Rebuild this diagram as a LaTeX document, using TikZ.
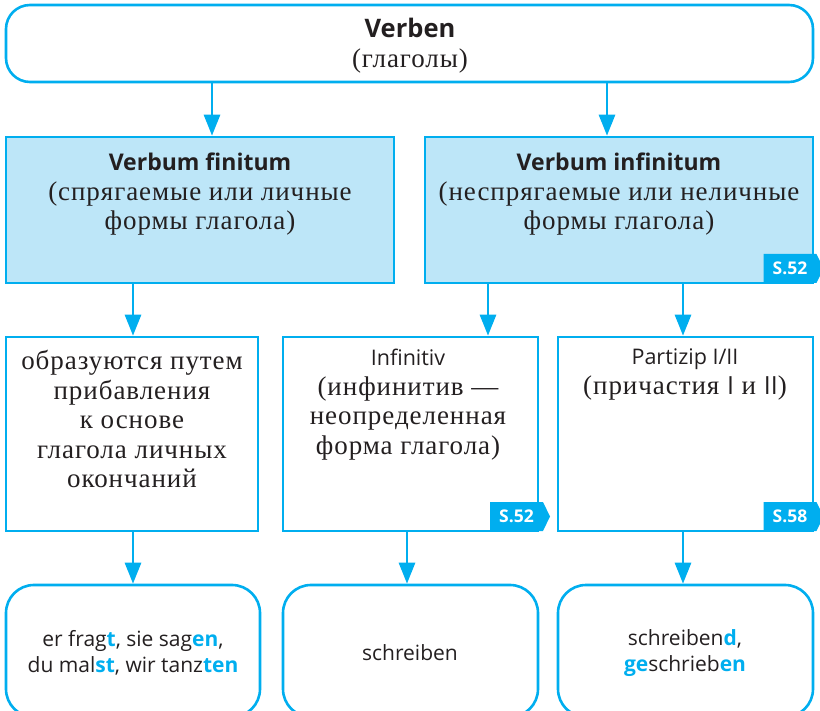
\documentclass[tikz,border=0pt]{standalone}
\usepackage{fontspec}
\setmainfont[LetterSpace=3.5]{Liberation Serif}
\setsansfont{Open Sans}
\usetikzlibrary{arrows.meta,shapes.symbols}
\definecolor{cy}{HTML}{00AEEF}
\definecolor{lb}{HTML}{BDE6F8}
\definecolor{tx}{HTML}{231F20}
\newcommand{\hl}[1]{\textcolor{cy}{\textbf{#1}}}
\newcommand{\hd}[1]{{\sffamily\bfseries\fontsize{23}{29.5}\selectfont #1}}
\newcommand{\sn}[1]{{\sffamily\fontsize{21.5}{29.5}\selectfont #1}}
\newcommand{\rn}[1]{{\sffamily\fontsize{25}{29.5}\selectfont #1}}
\begin{document}
\begin{tikzpicture}[x=1pt,y=-1pt,
  box/.style={draw=cy,line width=2.6pt,rectangle,inner sep=0pt},
  rbox/.style={box,rounded corners=24pt},
  fbox/.style={box,fill=lb},
  lbl/.style={text=tx,align=center,font=\fontsize{27}{29.5}\selectfont,inner sep=0pt},
  slbl/.style={text=tx,align=center,font=\sffamily\fontsize{21}{26.5}\selectfont,inner sep=0pt},
  tag/.style={signal,signal to=east,signal pointer angle=128,fill=cy,text=white,
    font=\sffamily\bfseries\fontsize{17.5}{17.5}\selectfont,minimum height=29pt,minimum width=60pt,inner sep=0pt},
  arr/.style={draw=cy,line width=2.8pt,-{Triangle[width=16pt,length=21pt]}}]
\useasboundingbox (0,0) rectangle (820,711);
% top
\node[rbox,minimum width=807pt,minimum height=77pt] (top) at (409.5,43.5) {};
\node[lbl,anchor=north] (toptxt) at (410,18) {{\sffamily\bfseries\fontsize{25.5}{29.5}\selectfont Verben}\\(глаголы)};
% row 2
\node[fbox,minimum width=388pt,minimum height=146pt] (fin) at (200,210) {};
\node[fbox,minimum width=388pt,minimum height=146pt] (inf) at (619,210) {};
\node[lbl,anchor=north] (fintxt) at (200,153) {\hd{Verbum finitum}\\(спрягаемые или личные\\формы глагола)};
\node[lbl,anchor=north] (inftxt) at (619,153) {\hd{Verbum infinitum}\\(неспрягаемые или неличные\\формы глагола)};
\node[tag] (t1) at (790,268.5) {S.52};
% row 3
\node[box,minimum width=252pt,minimum height=194pt] (b1) at (132,434) {};
\node[box,minimum width=255pt,minimum height=194pt] (b2) at (410.5,434) {};
\node[box,minimum width=255pt,minimum height=194pt] (b3) at (685.5,434) {};
\node[lbl,anchor=north] (b1txt) at (132,350) {образуются путем\\прибавления\\к основе\\глагола личных\\окончаний};
\node[lbl,anchor=north] (b2txt) at (408,349) {\sn{Infinitiv}\\(инфинитив —\\неопределенная\\форма глагола)};
\node[lbl,anchor=north] (b3txt) at (685,349) {\sn{Partizip I/II}\\(причастия \rn{I} и \rn{II})};
\node[tag] (t2) at (516.5,516.5) {S.52};
\node[tag] (t3) at (790,516.5) {S.58};
% row 4
\node[rbox,rounded corners=28pt,minimum width=254pt,minimum height=132pt] (c1) at (133,651) {};
\node[rbox,rounded corners=28pt,minimum width=255pt,minimum height=132pt] (c2) at (410.5,651) {};
\node[rbox,rounded corners=28pt,minimum width=255pt,minimum height=132pt] (c3) at (685.5,651) {};
\node[slbl] (c1txt) at (133,653) {er frag\hl{t}, sie sag\hl{en},\\du mal\hl{st}, wir tanz\hl{ten}};
\node[slbl] (c2txt) at (410,653) {schreiben};
\node[slbl] (c3txt) at (685,653) {schreiben\hl{d},\\\hl{ge}schrieb\hl{en}};
% arrows
\draw[arr] (top.south -| 212,0) -- (fin.north -| 212,0);
\draw[arr] (top.south -| 607,0) -- (inf.north -| 607,0);
\draw[arr] (fin.south -| 133,0) -- (b1.north -| 133,0);
\draw[arr] (inf.south -| 488,0) -- (b2.north -| 488,0);
\draw[arr] (inf.south -| 683,0) -- (b3.north -| 683,0);
\draw[arr] (b1.south -| 133,0) -- (c1.north -| 133,0);
\draw[arr] (b2.south -| 407,0) -- (c2.north -| 407,0);
\draw[arr] (b3.south -| 683,0) -- (c3.north -| 683,0);
\end{tikzpicture}
\end{document}
